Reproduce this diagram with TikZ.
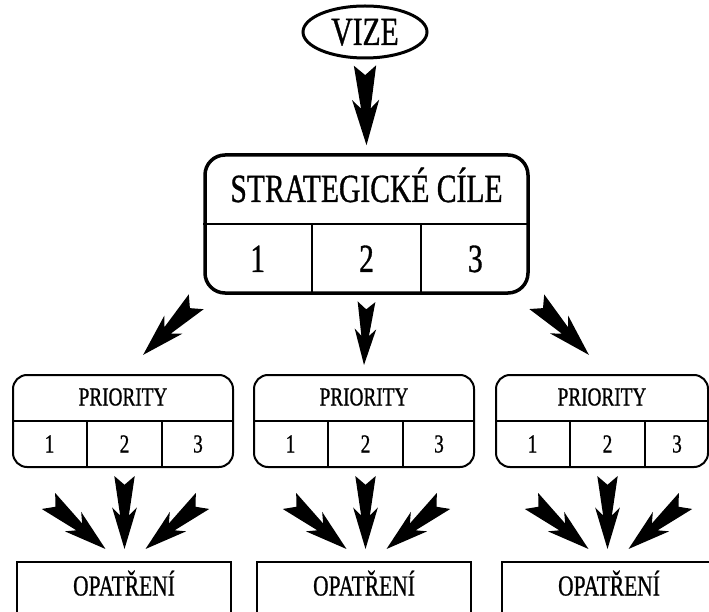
\documentclass[tikz,border=0pt]{standalone}
\usepackage{fontspec}
\newfontfamily\diagfont{Liberation Serif}[FakeStretch=0.74, FakeBold=0.8]
\usetikzlibrary{positioning, shapes.geometric, calc}

% Filled arrow with forked tail, from #1 to #2
\newcommand\fatarrow[2]{%
    \path let \p1 = ($(#2)-(#1)$) in \pgfextra{%
        \pgfmathparse{atan2(\y1,\x1)}\global\let\arrowangle\pgfmathresult
        \pgfmathparse{veclen(\x1,\y1)}\global\let\arrowlength\pgfmathresult};
    \fill[shift={(#1)}, rotate=\arrowangle, x=\arrowlength pt, y=\arrowlength pt]
        (0,.14) -- (.12,0) -- (0,-.14) -- (.54,-.06) -- (.43,-.17) -- (1,0)
        -- (.43,.17) -- (.54,.06) -- cycle;
}

\begin{document}
\begin{tikzpicture}[
    x=1pt, y=1pt,
    % Styles
    vision/.style={ % Top ellipse
        ellipse,
        draw,
        line width=3pt,
        minimum width=124pt,
        minimum height=52pt,
        inner sep=0pt,
        font=\diagfont\fontsize{40}{44}\selectfont,
        text height=26pt,
        text depth=0pt
    },
    goalbox/.style={ % Box with goals
        rectangle,
        rounded corners=20pt,
        draw,
        line width=3.5pt,
        minimum width=323pt,
        minimum height=138pt,
        inner sep=0pt
    },
    prioritybox/.style={ % Box with priorities
        rectangle,
        rounded corners=14pt,
        draw,
        line width=2pt,
        minimum height=92pt,
        inner sep=0pt
    },
    actionbox/.style={ % Box at the bottom
        rectangle,
        draw,
        line width=2pt,
        minimum width=214pt,
        minimum height=80pt,
        inner sep=0pt
    },
    bigtext/.style={
        inner sep=0pt,
        font=\diagfont\fontsize{40}{44}\selectfont,
        text height=26pt,
        text depth=0pt
    },
    smalltext/.style={
        inner sep=0pt,
        font=\diagfont\fontsize{26}{30}\selectfont,
        text height=17pt,
        text depth=0pt
    },
    actiontext/.style={
        inner sep=0pt,
        font=\diagfont\fontsize{29}{32}\selectfont,
        text height=19pt,
        text depth=0pt
    },
    divider/.style={
        line width=2pt
    },
    thindivider/.style={
        line width=1.5pt
    }
]

    \clip (0,0) rectangle (709,-612);

    % Vision
    \node[vision] (vize) at (365,-32) {VIZE};

    % Strategic goals
    \node[goalbox] (goals) at (366.5,-224) {};
    \node[bigtext] (goaltitle) at ([yshift=35pt]goals.center) {STRATEGICKÉ CÍLE};
    \draw[divider] (goals.west) -- (goals.east);
    \foreach \i in {1, 2, 3} {
        \node[bigtext] (goal\i) at ($(goals.west)!{(2*\i-1)/6}!(goals.east) + (0,-35)$) {\i};
    }
    \foreach \i in {1, 2} {
        \draw[divider] ($(goals.west)!{\i/3}!(goals.east)$)
            -- ($(goals.south west)!{\i/3}!(goals.south east)$);
    }

    % Priorities
    \foreach \i/\l/\w in {1/13/220, 2/254/220, 3/496/212} {
        \node[prioritybox, minimum width=\w pt] (prio\i) at (\l+\w/2, -421) {};
        \node[smalltext] (priotitle\i) at ([yshift=24pt]prio\i.center) {PRIORITY};
        \draw[thindivider] (prio\i.west) -- (prio\i.east);
        \draw[thindivider] ([xshift=75pt]prio\i.west) -- ([xshift=75pt]prio\i.south west);
        \draw[thindivider] ([xshift=150pt]prio\i.west) -- ([xshift=150pt]prio\i.south west);
        \node[smalltext] (prio\i a) at ([shift={(37.5pt,-23pt)}]prio\i.west) {1};
        \node[smalltext] (prio\i b) at ([shift={(112.5pt,-23pt)}]prio\i.west) {2};
        \node[smalltext] (prio\i c) at ($([xshift=150pt]prio\i.west)!.5!(prio\i.east) + (0,-23)$) {3};
    }

    % Measures
    \foreach \i/\c in {1/124, 2/364, 3/609} {
        \node[actionbox] (action\i) at (\c,-602) {};
        \node[actiontext] (actiontitle\i) at ([yshift=-25pt]action\i.north) {OPATŘENÍ};
    }

    % Arrow from vision to goals
    \coordinate (vt) at ([yshift=-6pt]vize.south);
    \coordinate (gt) at ([yshift=8pt]goals.north);
    \fatarrow{vt}{gt}

    % Arrows from goals to priorities
    \coordinate (g1) at ([shift={(-7pt,-7pt)}]goals.south west);
    \coordinate (g2) at ([yshift=-7pt]goals.south);
    \coordinate (g3) at ([shift={(7pt,-7pt)}]goals.south east);
    \coordinate (p1) at ([shift={(20pt,19pt)}]prio1.north);
    \coordinate (p2) at ([yshift=9pt]prio2.north);
    \coordinate (p3) at ([shift={(-13pt,19pt)}]prio3.north);
    \foreach \i in {1, 2, 3} {
        \fatarrow{g\i}{p\i}
    }

    % Arrows from priorities to measures
    \foreach \i in {1, 2, 3} {
        \coordinate (mid\i) at ([xshift=112.5pt]prio\i.south west);
        \coordinate (tl\i) at ([shift={(-76pt,-33pt)}]mid\i);
        \coordinate (tm\i) at ([yshift=-8pt]mid\i);
        \coordinate (tr\i) at ([shift={(78pt,-33pt)}]mid\i);
        \coordinate (hl\i) at ([shift={(-19pt,-81pt)}]mid\i);
        \coordinate (hm\i) at ([yshift=-81pt]mid\i);
        \coordinate (hr\i) at ([shift={(21pt,-81pt)}]mid\i);
        \fatarrow{tl\i}{hl\i}
        \fatarrow{tm\i}{hm\i}
        \fatarrow{tr\i}{hr\i}
    }
\end{tikzpicture}
\end{document}
